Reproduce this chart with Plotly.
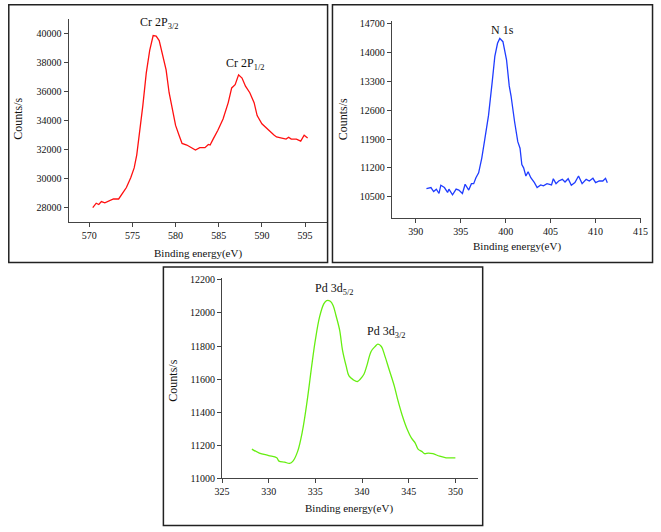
import plotly.graph_objects as go

W, H = 661, 532

# ---- data: Cr 2p ----
cr_energy = [570.4, 570.8, 571.1, 571.4, 571.8, 572.3, 572.8, 573.4, 573.8, 574.3,
             574.8, 575.2, 575.5, 575.85, 576.2, 576.6, 577.0, 577.4, 577.75, 578.1,
             578.5, 578.9, 579.25, 579.6, 580.0, 580.4, 580.75, 581.3, 581.9, 582.3,
             582.8, 583.4, 583.8, 584.0, 584.35, 584.9, 585.5, 586.1, 586.5, 586.9,
             587.3, 587.7, 588.1, 588.6, 589.1, 589.45, 590.0, 590.6, 591.1, 591.4,
             591.7, 592.3, 592.8, 593.1, 593.4, 594.0, 594.5, 594.9, 595.3]
cr_counts = [28000, 28310, 28220, 28420, 28330, 28490, 28600, 28600, 28940, 29390,
             30060, 30740, 31640, 33210, 35010, 37260, 38830, 39840, 39800, 39500,
             38490, 37480, 35910, 34780, 33660, 32990, 32420, 32310, 32080, 31970,
             32130, 32130, 32350, 32310, 32720, 33330, 34110, 35230, 36240, 36470,
             37140, 36920, 36360, 35910, 35230, 34340, 33770, 33430, 33100, 33000,
             32870, 32800, 32720, 32850, 32720, 32720, 32580, 32990, 32800]

# ---- data: N 1s ----
n_energy = [391.2, 391.7, 392.0, 392.3, 392.6, 392.8, 393.2, 393.55, 393.7, 394.1,
            394.5, 394.8, 395.2, 395.5, 395.9, 396.2, 396.45, 396.7, 397.0, 397.35,
            397.7, 398.1, 398.5, 398.8, 399.1, 399.35, 399.7, 400.1, 400.4, 400.6,
            401.0, 401.35, 401.6, 401.8, 402.0, 402.25, 402.5, 402.8, 403.2, 403.5,
            403.9, 404.2, 404.6, 405.1, 405.3, 405.6, 405.9, 406.3, 406.6, 406.95,
            407.3, 407.7, 408.1, 408.5, 408.95, 409.3, 409.7, 410.0, 410.4, 410.8,
            411.1, 411.3]
n_counts = [10698, 10722, 10626, 10683, 10578, 10779, 10722, 10603, 10683, 10547,
            10683, 10660, 10578, 10802, 10660, 10817, 10817, 10960, 11080, 11437,
            11915, 12473, 13268, 13905, 14223, 14342, 14263, 13824, 13190, 12950,
            12313, 11836, 11676, 11280, 11200, 11001, 11104, 10960, 10841, 10722,
            10786, 10762, 10817, 10786, 10936, 10817, 10881, 10921, 10857, 10936,
            10779, 10841, 11001, 10817, 10921, 10881, 10946, 10841, 10881, 10881,
            10946, 10841]

# ---- data: Pd 3d ----
pd_energy = [328.2, 329.0, 330.0, 330.86, 331.1, 331.7, 332.24, 332.6, 333.1, 333.6,
             334.1, 334.65, 335.0, 335.45, 335.9, 336.2, 336.6, 336.9, 337.2, 337.6,
             337.9, 338.3, 338.6, 339.07, 339.5, 339.8, 340.2, 340.5, 340.97, 341.4,
             341.7, 342.07, 342.4, 342.9, 343.45, 343.8, 344.3, 344.8, 345.3, 345.7,
             346.0, 346.4, 346.7, 347.1, 347.6, 348.3, 349.0, 349.7, 350.0]
pd_counts = [11176, 11152, 11137, 11123, 11103, 11097, 11089, 11103, 11162, 11281,
             11460, 11698, 11837, 11976, 12055, 12075, 12071, 12045, 11986, 11896,
             11777, 11678, 11619, 11595, 11585, 11599, 11629, 11678, 11767, 11797,
             11811, 11797, 11748, 11658, 11559, 11480, 11381, 11301, 11242, 11212,
             11176, 11162, 11148, 11152, 11148, 11133, 11123, 11123, 11123]

cr_ticks_x = [570, 575, 580, 585, 590, 595]
cr_ticks_y = [28000, 30000, 32000, 34000, 36000, 38000, 40000]
n_ticks_x = [390, 395, 400, 405, 410, 415]
n_ticks_y = [10500, 11200, 11900, 12600, 13300, 14000, 14700]
pd_ticks_x = [325, 330, 335, 340, 345, 350]
pd_ticks_y = [11000, 11200, 11400, 11600, 11800, 12000, 12200]

FONT = "Liberation Serif"


def px(x):
    return x / W


def py(y):
    return 1 - y / H


fig = go.Figure()
fig.add_trace(go.Scatter(x=cr_energy, y=cr_counts, mode="lines",
                         line=dict(color="#ff1010", width=1.3),
                         xaxis="x", yaxis="y", showlegend=False))
fig.add_trace(go.Scatter(x=n_energy, y=n_counts, mode="lines",
                         line=dict(color="#1f3cff", width=1.3),
                         xaxis="x2", yaxis="y2", showlegend=False))
fig.add_trace(go.Scatter(x=pd_energy, y=pd_counts, mode="lines",
                         line=dict(color="#66ee11", width=1.3, shape="spline"),
                         xaxis="x3", yaxis="y3", showlegend=False))

axis_common = dict(showline=True, linecolor="#444444", linewidth=1,
                   ticks="outside", ticklen=4, tickcolor="#444444",
                   showgrid=False, zeroline=False,
                   tickfont=dict(family=FONT, size=10, color="#111111"))


def tk(vals):
    return dict(tickmode="array", tickvals=vals, ticktext=[str(v) for v in vals])


fig.update_layout(
    width=W, height=H,
    margin=dict(l=0, r=0, t=0, b=0),
    paper_bgcolor="white", plot_bgcolor="white",
    font=dict(family=FONT, color="#111111"),
    xaxis=dict(domain=[px(62), px(326)], range=[567.6, 597.5],
               anchor="y", **tk(cr_ticks_x), **axis_common),
    yaxis=dict(domain=[py(222), py(15)], range=[27000, 41000],
               anchor="x", **tk(cr_ticks_y), **axis_common),
    xaxis2=dict(domain=[px(392.7), px(647.3)], range=[387.35, 415],
                anchor="y2", **tk(n_ticks_x), **axis_common),
    yaxis2=dict(domain=[py(218), py(17)], range=[9975, 14772],
                anchor="x2", **tk(n_ticks_y), **axis_common),
    xaxis3=dict(domain=[px(219), px(480.7)], range=[325, 352.4],
                anchor="y3", **tk(pd_ticks_x), **axis_common),
    yaxis3=dict(domain=[py(482.3), py(279)], range=[11000, 12210],
                anchor="x3", **tk(pd_ticks_y), **axis_common),
)

# panel borders
boxes = [(0.8, 0.8, 327, 263), (332, 0.8, 659.5, 263), (159, 267.5, 485.7, 530.5)]
for x0, y0, x1, y1 in boxes:
    fig.add_shape(type="rect", xref="paper", yref="paper",
                  x0=px(x0), x1=px(x1), y0=py(y1), y1=py(y0),
                  line=dict(color="#222222", width=1.5))

anns = []
# axis titles
for (cx, cy) in [(194, 254), (521, 247), (349, 513)]:
    anns.append(dict(x=px(cx), y=py(cy), text="Binding energy(eV)", textangle=0,
                     font=dict(size=11)))
for (cx, cy) in [(10, 117), (343, 117), (168, 383)]:
    anns.append(dict(x=px(cx), y=py(cy), text="Counts/s", textangle=-90,
                     font=dict(size=12)))
# peak labels
for (cx, cy, t) in [(154, 19, "Cr 2P<sub>3/2</sub>"), (242, 61, "Cr 2P<sub>1/2</sub>"),
                    (506, 26, "N 1s"), (334, 290, "Pd 3d<sub>5/2</sub>"),
                    (387, 334, "Pd 3d<sub>3/2</sub>")]:
    anns.append(dict(x=px(cx), y=py(cy), text=t, font=dict(size=12)))

for a in anns:
    a.update(xref="paper", yref="paper", showarrow=False,
             xanchor="center", yanchor="middle")
    a["font"].update(family=FONT, color="#111111")
fig.update_layout(annotations=anns)

fig.write_html("out.html",
               config={"displayModeBar": False},
               post_script="document.body.style.margin='0px';"
                           "document.body.style.overflow='hidden';")
